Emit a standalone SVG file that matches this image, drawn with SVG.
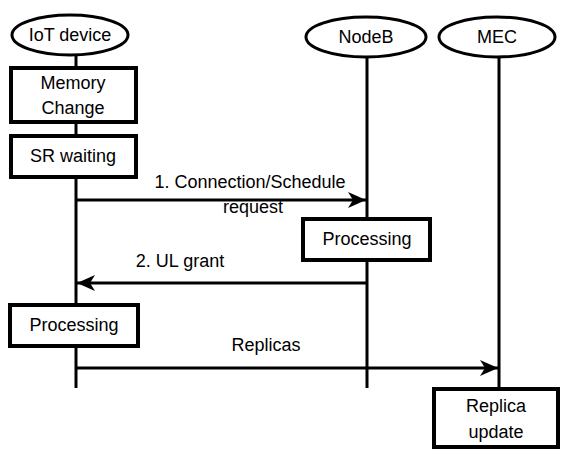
<svg xmlns="http://www.w3.org/2000/svg" width="561" height="449" viewBox="0 0 561 449">
<style>
.ell{fill:#fff;stroke:#000;stroke-width:3}
.box{fill:#fff;stroke:#000;stroke-width:4}
.life{stroke:#000;stroke-width:3;fill:none}
.msg{stroke:#000;stroke-width:3;fill:none;marker-end:url(#arr)}
text{font-family:"Liberation Sans",Arial,sans-serif;font-size:18px;fill:#000;text-anchor:middle}
</style>
<defs>
<marker id="arr" markerUnits="userSpaceOnUse" markerWidth="20" markerHeight="18" refX="18" refY="8" orient="auto">
<path d="M0,0 L18,8 L0,16 L5,8 Z" fill="#000"/>
</marker>
</defs>
<rect width="561" height="449" fill="#fff"/>
<g id="lifelines">
<line class="life" x1="76" y1="53" x2="76" y2="388"/>
<line class="life" x1="367" y1="56" x2="367" y2="388"/>
<line class="life" x1="499" y1="56" x2="499" y2="390"/>
</g>
<g id="iot"><ellipse class="ell" cx="70" cy="35" rx="58" ry="20"/><text x="70" y="41">IoT device</text></g>
<g id="nodeb"><ellipse class="ell" cx="366" cy="37" rx="60" ry="20"/><text x="366" y="43">NodeB</text></g>
<g id="mec"><ellipse class="ell" cx="497" cy="37" rx="58" ry="20"/><text x="497" y="43">MEC</text></g>
<g id="memory"><rect class="box" x="11" y="68" width="125" height="54"/><text x="73" y="89">Memory</text><text x="73" y="114">Change</text></g>
<g id="srwait"><rect class="box" x="11" y="136" width="125" height="41"/><text x="73" y="162">SR waiting</text></g>
<g id="proc-nodeb"><rect class="box" x="303" y="219" width="127" height="41"/><text x="367" y="245">Processing</text></g>
<g id="proc-iot"><rect class="box" x="10" y="305" width="128" height="41"/><text x="74" y="331">Processing</text></g>
<g id="replica"><rect class="box" x="434" y="389" width="124" height="58"/><text x="496" y="412">Replica</text><text x="496" y="438">update</text></g>
<g id="connectors">
<line class="msg" x1="76" y1="200" x2="366" y2="200"/>
<line class="msg" x1="366" y1="283" x2="77" y2="283"/>
<line class="msg" x1="76" y1="368" x2="498" y2="368"/>
<text x="250" y="188">1. Connection/Schedule</text>
<text x="253" y="213">request</text>
<text x="180" y="267">2. UL grant</text>
<text x="266" y="351">Replicas</text>
</g>
</svg>
